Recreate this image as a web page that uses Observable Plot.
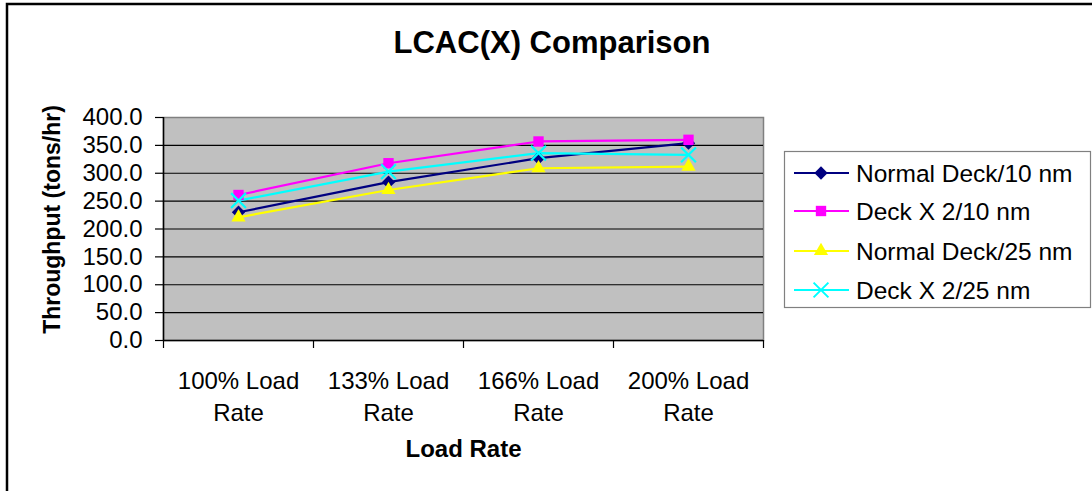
<!DOCTYPE html>
<html><head><meta charset="utf-8">
<script src="https://cdn.jsdelivr.net/npm/d3@7"></script>
<script src="https://cdn.jsdelivr.net/npm/@observablehq/plot@0.6"></script>
<style>
html,body{margin:0;padding:0;background:#fff;}
#wrap{position:relative;width:1092px;height:491px;overflow:hidden;font-family:"Liberation Sans",Arial,sans-serif;}
#wrap svg{position:absolute;left:0;top:0;}
</style></head><body><div id="wrap"></div>
<script>
// ---- data ----
const categories = ["100% Load Rate", "133% Load Rate", "166% Load Rate", "200% Load Rate"];
const seriesNames = ["Normal Deck/10 nm", "Deck X 2/10 nm", "Normal Deck/25 nm", "Deck X 2/25 nm"];
const normalDeck10 = [230, 284, 327, 354];
const deckX2_10 = [261, 318, 357, 360];
const normalDeck25 = [221, 270, 309, 312];
const deckX2_25 = [251, 303, 336, 333];
const yTicks = [0, 50, 100, 150, 200, 250, 300, 350, 400];
const seriesColors = ["#000080", "#FF00FF", "#FFFF00", "#00FFFF"];
const seriesSymbols = ["diamond2", "square2", "triangle2", "times"];
const symbolRadius = [6, 6.6, 6.8, 6.8];

const seriesValues = [normalDeck10, deckX2_10, normalDeck25, deckX2_25];
const rows = [];
seriesValues.forEach((vals, s) => vals.forEach((v, i) => rows.push({series: seriesNames[s], s, pos: i + 0.5, value: v})));
const boundaries = d3.range(categories.length + 1);

const font = "Liberation Sans, Arial, sans-serif";

const chart = Plot.plot({
  width: 1092, height: 491,
  marginLeft: 163, marginRight: 329, marginTop: 117, marginBottom: 151,
  style: {fontFamily: font, fontSize: "24px", background: "transparent", color: "#000", overflow: "visible"},
  x: {type: "linear", domain: [0, categories.length]},
  y: {domain: [0, 400]},
  color: {domain: seriesNames, range: seriesColors},
  marks: [
    Plot.frame({fill: "#C0C0C0", stroke: "#808080", strokeWidth: 1.5}),
    Plot.gridY(yTicks.filter(t => t > 0 && t < 400), {stroke: "#000", strokeOpacity: 1, strokeWidth: 1.2}),
    Plot.axisY({ticks: yTicks, tickFormat: d => d.toFixed(1), tickSize: 8, tickPadding: 13, label: null, fontSize: 24, strokeWidth: 1.2}),
    Plot.axisX({ticks: boundaries, tickFormat: () => "", tickSize: 8, label: null, strokeWidth: 1.2}),
    Plot.ruleX([0], {stroke: "#000", strokeWidth: 1.5}),
    Plot.ruleY([0], {stroke: "#000", strokeWidth: 1.5}),
    Plot.text(categories, {
      x: (d, i) => i + 0.5, frameAnchor: "bottom", lineAnchor: "top", dy: 26, lineHeight: 1.333,
      text: d => { const k = d.lastIndexOf(" "); return d.slice(0, k) + "\n" + d.slice(k + 1); },
      fontSize: 24, fill: "#000"
    }),
    Plot.text(["Load Rate"], {frameAnchor: "bottom", lineAnchor: "bottom", dy: 116, fontSize: 24, fontWeight: "bold", fill: "#000"}),
    Plot.text(["Throughput (tons/hr)"], {frameAnchor: "left", textAnchor: "middle", rotate: -90, lineAnchor: "top", dx: -120, dy: -9.5, fontSize: 23, fontWeight: "bold", fill: "#000"}),
    Plot.line(rows, {x: "pos", y: "value", z: "series", stroke: "series", strokeWidth: 2.2}),
    ...seriesNames.map((name, s) => Plot.dot(rows.filter(d => d.s === s), {
      x: "pos", y: "value", symbol: seriesSymbols[s], r: symbolRadius[s],
      ...(seriesSymbols[s] === "times" ? {stroke: seriesColors[s], strokeWidth: 2.2, fill: "none"} : {fill: seriesColors[s], stroke: "none"})
    }))
  ]
});
const wrap = document.getElementById("wrap");
wrap.appendChild(chart);

// ---- overlay: border, title, legend ----
const ov = d3.create("svg").attr("width", 1092).attr("height", 491).style("pointer-events", "none")
  .style("font-family", font);
ov.append("path").attr("d", "M7,1200 V4 H1200").attr("fill", "none").attr("stroke", "#000").attr("stroke-width", 2.5);
ov.append("text").attr("x", 552).attr("y", 53).attr("text-anchor", "middle")
  .attr("font-size", 31).attr("font-weight", "bold").text("LCAC(X) Comparison");

const lg = ov.append("g").attr("transform", "translate(784,151)");
lg.append("rect").attr("x", 0.5).attr("y", 0.5).attr("width", 306).attr("height", 156)
  .attr("fill", "#fff").attr("stroke", "#808080").attr("stroke-width", 1.2);
const symMap = {diamond2: d3.symbolDiamond2, square2: d3.symbolSquare2, triangle2: d3.symbolTriangle2, times: d3.symbolTimes};
const rowY = [22, 60, 100, 139];
seriesNames.forEach((name, s) => {
  const g = lg.append("g").attr("transform", `translate(0,${rowY[s]})`);
  g.append("line").attr("x1", 10).attr("x2", 65).attr("stroke", seriesColors[s]).attr("stroke-width", 2);
  const r = symbolRadius[s];
  const p = g.append("path").attr("transform", "translate(37,0)")
    .attr("d", d3.symbol(symMap[seriesSymbols[s]], r * r * Math.PI)());
  if (seriesSymbols[s] === "times") p.attr("fill", "none").attr("stroke", seriesColors[s]).attr("stroke-width", 2);
  else p.attr("fill", seriesColors[s]);
  g.append("text").attr("x", 72).attr("y", 0).attr("dy", "0.35em").attr("font-size", 24.5).text(name);
});
wrap.appendChild(ov.node());
</script></body></html>
